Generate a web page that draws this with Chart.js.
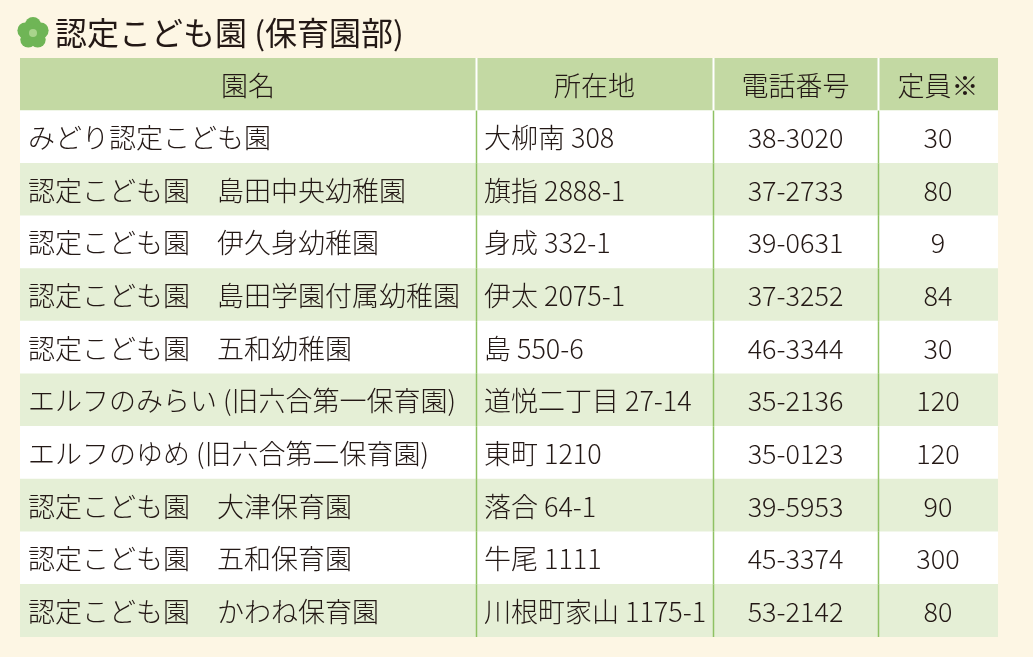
<!DOCTYPE html>
<html>
<head>
<meta charset="utf-8">
<script src="https://cdn.jsdelivr.net/npm/chart.js@4"></script>
<style>
  body { margin: 0; background: #fdf6e4; }
  #wrap { width: 1033px; height: 657px; }
</style>
</head>
<body>
<div id="wrap"><canvas id="tableChart"></canvas></div>
<script>
const title = "認定こども園 (保育園部)";
const headers = ["園名", "所在地", "電話番号", "定員※"];
const names = [
    "みどり認定こども園",
    "認定こども園　島田中央幼稚園",
    "認定こども園　伊久身幼稚園",
    "認定こども園　島田学園付属幼稚園",
    "認定こども園　五和幼稚園",
    "エルフのみらい (旧六合第一保育園)",
    "エルフのゆめ (旧六合第二保育園)",
    "認定こども園　大津保育園",
    "認定こども園　五和保育園",
    "認定こども園　かわね保育園"
];
const addresses = [
    "大柳南 308", "旗指 2888-1", "身成 332-1", "伊太 2075-1", "島 550-6",
    "道悦二丁目 27-14", "東町 1210", "落合 64-1", "牛尾 1111", "川根町家山 1175-1"
];
const phones = [
    "38-3020", "37-2733", "39-0631", "37-3252", "46-3344",
    "35-2136", "35-0123", "39-5953", "45-3374", "53-2142"
];
const capacity = ["30", "80", "9", "84", "30", "120", "120", "90", "300", "80"];

// column widths in table units (layout, not data)
const colWidths = [456, 237, 165, 120];
const colAlign = ["left", "left", "center", "center"];

const rows = [headers].concat(names.map((n, i) => [n, addresses[i], phones[i], capacity[i]]));
const rowColor = (i) => i === 0 ? "#c3d9a3" : (i % 2 === 1 ? "#ffffff" : "#e5efd6");
const FONT = '"Noto Sans CJK JP", "Noto Sans", sans-serif';

const tablePlugin = {
    id: "tableText",
    afterDatasetsDraw(chart) {
        const ctx = chart.ctx;
        ctx.save();
        // separators
        chart.data.datasets.forEach((ds, c) => {
            if (c === 0) return;
            const meta = chart.getDatasetMeta(c);
            meta.data.forEach((bar, r) => {
                const top = bar.y - bar.height / 2, bot = bar.y + bar.height / 2;
                const x = Math.round(bar.base) + 0.5;
                ctx.strokeStyle = r === 0 ? "#ffffff" : "#8fc163";
                ctx.lineWidth = r === 0 ? 2 : 1.5;
                ctx.beginPath();
                ctx.moveTo(x, top);
                ctx.lineTo(x, bot);
                ctx.stroke();
            });
        });
        // text
        ctx.fillStyle = "#231815";
        ctx.textBaseline = "middle";
        chart.data.datasets.forEach((ds, c) => {
            const meta = chart.getDatasetMeta(c);
            meta.data.forEach((bar, r) => {
                const left = Math.min(bar.base, bar.x), right = Math.max(bar.base, bar.x);
                const align = r === 0 ? "center" : colAlign[c];
                ctx.font = "300 27px " + FONT;
                ctx.textAlign = align;
                const tx = align === "center" ? (left + right) / 2 : left + 8;
                ctx.fillText(rows[r][c], tx, bar.y + 1);
            });
        });
        // title with flower
        const cx = 33, cy = 33;
        ctx.fillStyle = "#6fb556";
        for (let k = 0; k < 5; k++) {
            const a = -Math.PI / 2 + k * 2 * Math.PI / 5;
            ctx.beginPath();
            ctx.arc(cx + Math.cos(a) * 8, cy + Math.sin(a) * 8, 8, 0, Math.PI * 2);
            ctx.fill();
        }
        ctx.fillStyle = "#a8d48c";
        ctx.beginPath();
        ctx.arc(cx, cy, 4, 0, Math.PI * 2);
        ctx.fill();
        ctx.fillStyle = "#231815";
        ctx.textAlign = "left";
        ctx.font = "32px " + FONT;
        ctx.fillText(title, 55, cy);
        ctx.restore();
    }
};

new Chart(document.getElementById("tableChart").getContext("2d"), {
    type: "bar",
    data: {
        labels: rows.map((r, i) => "row" + i),
        datasets: colWidths.map((w, c) => ({
            label: headers[c],
            data: rows.map(() => w),
            backgroundColor: rows.map((r, i) => rowColor(i)),
            borderWidth: 0,
            barPercentage: 1,
            categoryPercentage: 1
        }))
    },
    options: {
        indexAxis: "y",
        responsive: true,
        maintainAspectRatio: false,
        animation: false,
        layout: { padding: { left: 20, right: 35, top: 58, bottom: 20 } },
        plugins: { legend: { display: false }, tooltip: { enabled: false }, title: { display: false } },
        scales: {
            x: { stacked: true, display: false, min: 0, max: 978 },
            y: { stacked: true, display: false }
        }
    },
    plugins: [tablePlugin]
});
</script>
</body>
</html>
